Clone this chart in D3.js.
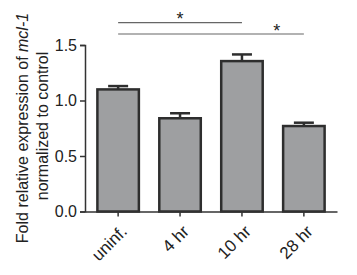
<!DOCTYPE html>
<html>
<head>
<meta charset="utf-8">
<script src="https://cdn.jsdelivr.net/npm/d3@7"></script>
<style>
  body { margin: 0; background: #fff; }
  svg { display: block; font-family: "Liberation Sans", Arial, sans-serif; }
</style>
</head>
<body>
<svg id="chart"></svg>
<script>
/* data */
const groups = ["uninf.", "4 hr", "10 hr", "28 hr"];
const means = [1.10, 0.84, 1.355, 0.77];
const errs = [0.03, 0.045, 0.06, 0.03];
const yTicks = [0.0, 0.5, 1.0, 1.5];
// significance brackets: [from group, to group, level]
const sigPairs = [["uninf.", "10 hr", 0], ["uninf.", "28 hr", 1]];

const width = 357,
  height = 275,
  plotLeft = 85,
  plotRight = 337,
  plotTop = 45,
  plotBottom = 211.5;

const svg = d3.select("#chart").attr("width", width).attr("height", height);

const x = d3.scaleBand().domain(groups).range([plotLeft, plotRight]).paddingInner(0.33).paddingOuter(0.2);
const y = d3.scaleLinear().domain([0, 1.5]).range([plotBottom, plotTop]);

const axisColor = "#333";

/* bars */
svg.append("g")
  .selectAll("rect")
  .data(groups)
  .join("rect")
  .attr("x", d => x(d))
  .attr("y", (d, i) => y(means[i]))
  .attr("width", x.bandwidth())
  .attr("height", (d, i) => y(0) - y(means[i]))
  .attr("fill", "#9e9fa1")
  .attr("stroke", "#2e2e2e")
  .attr("stroke-width", 2.5);

/* error bars (upper only) */
const capW = 20;
const eb = svg.append("g").attr("stroke", "#2e2e2e").attr("stroke-width", 2.5);
groups.forEach((g, i) => {
  const cx = x(g) + x.bandwidth() / 2;
  eb.append("line").attr("x1", cx).attr("x2", cx)
    .attr("y1", y(means[i])).attr("y2", y(means[i] + errs[i]));
  eb.append("line").attr("x1", cx - capW / 2).attr("x2", cx + capW / 2)
    .attr("y1", y(means[i] + errs[i])).attr("y2", y(means[i] + errs[i]));
});

/* y axis */
const yAxis = svg.append("g")
  .attr("transform", "translate(" + plotLeft + ",0)")
  .call(d3.axisLeft(y).tickValues(yTicks).tickFormat(d3.format(".1f")).tickSize(5).tickPadding(3));
yAxis.select(".domain").attr("stroke", axisColor).attr("stroke-width", 1.5);
yAxis.selectAll(".tick line").attr("stroke", axisColor).attr("stroke-width", 1.5);
yAxis.selectAll(".tick text").attr("font-size", 16).attr("fill", "#222").attr("font-family", null);

/* x axis */
const xAxis = svg.append("g")
  .attr("transform", "translate(0," + plotBottom + ")")
  .call(d3.axisBottom(x).tickSize(5).tickSizeOuter(0));
xAxis.select(".domain").attr("stroke", axisColor).attr("stroke-width", 1.5);
xAxis.selectAll(".tick line").attr("stroke", axisColor).attr("stroke-width", 1.5);
xAxis.selectAll(".tick text")
  .attr("font-size", 17)
  .attr("fill", "#222")
  .attr("font-family", null)
  .attr("text-anchor", "end")
  .attr("dy", null)
  .attr("y", 0)
  .attr("transform", "translate(10,21) rotate(-45)");

/* y label */
const ylab = svg.append("g").attr("font-size", 16).attr("fill", "#222").attr("text-anchor", "middle");
const yMid = 128;
const l1 = ylab.append("text").attr("transform", "translate(28," + yMid + ") rotate(-90)");
l1.append("tspan").text("Fold relative expression of ");
l1.append("tspan").attr("font-style", "italic").text("mcl-1");
ylab.append("text").attr("transform", "translate(48," + (yMid - 2) + ") rotate(-90)").text("normalized to control");

/* significance lines */
const sigY = [22.7, 34];
const sig = svg.append("g");
sigPairs.forEach(([a, b, lvl]) => {
  const x1 = x(a) + x.bandwidth() / 2,
    x2 = x(b) + x.bandwidth() / 2;
  sig.append("line").attr("x1", x1).attr("x2", x2).attr("y1", sigY[lvl]).attr("y2", sigY[lvl])
    .attr("stroke", "#666").attr("stroke-width", 1.2);
  const sx = lvl === 0 ? (x1 + x2) / 2 : x2 - 27;
  sig.append("text").attr("x", sx).attr("y", sigY[lvl] + 2.5).attr("text-anchor", "middle")
    .attr("font-size", 18).attr("fill", "#222").text("*");
});
</script>
</body>
</html>
